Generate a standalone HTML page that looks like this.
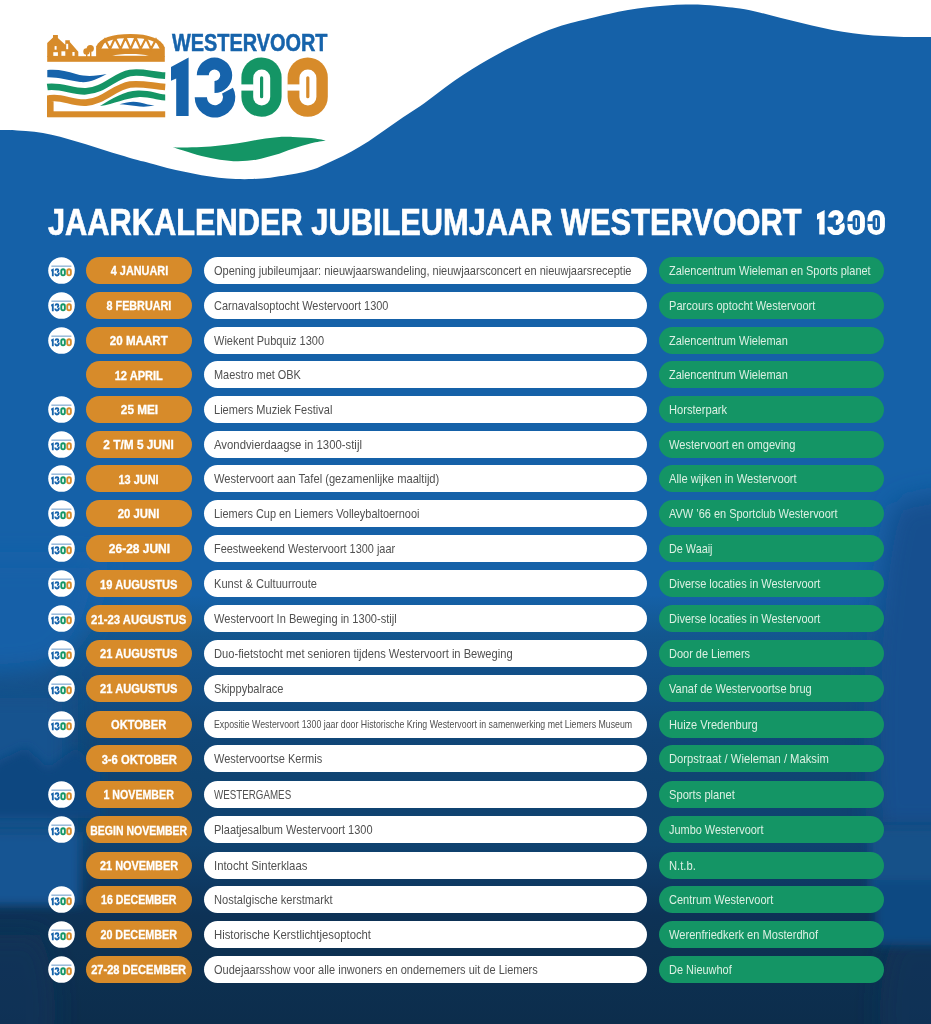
<!DOCTYPE html>
<html><head><meta charset="utf-8"><style>
*{margin:0;padding:0;box-sizing:border-box}
html,body{width:931px;height:1024px;overflow:hidden}
body{position:relative;background:#1561a8;font-family:"Liberation Sans",sans-serif}
.abs{position:absolute}
.row{position:absolute;left:0;width:931px;height:27px}
.ic{position:absolute;left:47.8px;top:0}
.dt{position:absolute;left:86px;width:106px;height:27px;border-radius:13.5px;background:#d78b2a;color:#fff;font-weight:bold;font-size:12.3px;line-height:27px;white-space:nowrap;display:flex;justify-content:center}
.ev{position:absolute;left:204px;width:443px;height:27px;border-radius:13.5px;background:#fff;color:#505050;font-size:13.1px;line-height:27px;white-space:nowrap;padding-left:10.4px}
.lo{position:absolute;left:659px;width:225px;height:27px;border-radius:13.5px;background:#149565;color:#dcf0e3;font-size:13.1px;line-height:27px;white-space:nowrap;padding-left:9.7px}
.sx{display:inline-block;transform-origin:0 50%}
.dt .sx{transform-origin:50% 50%;position:relative;top:1.3px;-webkit-text-stroke:0.3px #fff}
</style></head><body>

<svg class="abs" style="left:0;top:0" width="931" height="1024" viewBox="0 0 931 1024">
<defs>
<linearGradient id="bgg" x1="0" y1="0" x2="0" y2="1024" gradientUnits="userSpaceOnUse"><stop offset="0.0000" stop-color="#1561a8"/><stop offset="0.5811" stop-color="#1561a8"/><stop offset="0.6201" stop-color="#13568f"/><stop offset="0.6543" stop-color="#125089"/><stop offset="0.7227" stop-color="#104677"/><stop offset="0.7568" stop-color="#0f4472"/><stop offset="0.8252" stop-color="#0f426f"/><stop offset="0.8594" stop-color="#0e3a64"/><stop offset="0.8936" stop-color="#0d3256"/><stop offset="0.9277" stop-color="#0d3152"/><stop offset="1.0000" stop-color="#0c2d4c"/></linearGradient>
<filter id="bl" filterUnits="userSpaceOnUse" x="-100" y="0" width="1131" height="1150"><feGaussianBlur stdDeviation="12"/></filter>
<filter id="bl2" filterUnits="userSpaceOnUse" x="-100" y="0" width="1131" height="1150"><feGaussianBlur stdDeviation="5"/></filter>
<symbol id="idig" viewBox="0 0 157 59.5" width="157" height="59.5" overflow="visible"><path fill="#1663ab" d="M-1,9.5 L18.6,-0.5 L18.6,59 L4.5,59 L4.5,22 L-1,24 Z"/><path fill="#1663ab" d="M25.30,17.90 A18.20,18.20 0 1 1 43.50,36.10 L43.50,22.10 A4.20,4.20 0 1 0 39.30,17.90 Z"/><path fill="#1663ab" stroke="#fff" stroke-width="2.5" paint-order="stroke" d="M23.20,39.90 A20.80,20.80 0 1 0 62.37,30.13 L49.47,36.99 A6.20,6.20 0 1 1 37.80,39.90 Z"/><rect x="69.4" y="-0.5" width="42" height="60.4" rx="21" fill="#149565"/><rect x="83.9" y="14" width="13" height="32" rx="6.5" fill="#fff"/><rect x="115.6" y="-0.5" width="42" height="60.4" rx="21" fill="#d78b2a"/><rect x="130.1" y="14" width="13" height="32" rx="6.5" fill="#fff"/></symbol>
</defs>
<rect width="931" height="1024" fill="url(#bgg)"/>
<g filter="url(#bl)">
<path fill="#1561a8" d="M-60,560 L100,560 C100,610 80,650 45,668 L0,672 L-60,672 Z"/>
<path fill="#12508f" d="M895,505 C910,498 930,494 990,490 L990,830 L875,830 C868,700 875,560 895,505 Z"/>
<path fill="#13528f" d="M-60,690 L70,690 L70,835 L-60,835 Z"/>
<path fill="#0e3458" fill-opacity="0.7" d="M-60,935 L40,935 C60,980 60,1040 40,1090 L-60,1090 Z"/>
<path fill="#0e3458" fill-opacity="0.7" d="M990,935 L895,935 C875,980 875,1040 895,1090 L990,1090 Z"/>
</g>
<g filter="url(#bl2)">
<path fill="#114680" d="M-20,818 L-20,775 L0,760 L26,748 L48,768 L76,748 L100,770 L100,818 Z"/>
<path fill="#145593" d="M-60,832 L80,832 L80,905 L-60,905 Z"/>
<path fill="#135189" d="M870,828 L990,828 L990,900 L870,900 Z"/>
<path fill="#114a82" d="M875,880 L990,880 L990,945 L875,945 Z"/>
</g>
<path d="M-1,-1 L-1,130.1 L0,130.1 C2.9,130.2 11.5,130.1 17.2,130.4 C22.9,130.7 28.7,131.1 34.4,131.8 C40.1,132.5 45.8,133.5 51.5,134.7 C57.2,135.9 63.0,137.6 68.7,139.2 C74.4,140.8 80.2,142.5 85.9,144.3 C91.6,146.1 97.4,148.0 103.1,149.8 C108.8,151.6 114.6,153.3 120.3,155.0 C126.0,156.7 132.6,158.7 137.5,160.1 C142.4,161.5 145.1,161.9 150.0,163.2 C154.9,164.5 161.5,166.5 167.2,167.9 C172.9,169.3 178.7,170.6 184.4,171.8 C190.1,173.0 195.8,174.3 201.5,175.3 C207.2,176.3 213.0,177.1 218.7,177.7 C224.4,178.3 230.2,178.8 235.9,179.0 C241.6,179.2 247.4,179.2 253.1,179.0 C258.8,178.8 264.6,178.3 270.3,177.7 C276.0,177.0 282.6,175.9 287.5,175.1 C292.4,174.3 295.1,174.0 300.0,172.8 C304.9,171.6 311.5,170.0 317.2,167.9 C322.9,165.8 328.7,162.8 334.4,160.1 C340.1,157.4 345.8,154.7 351.5,151.5 C357.2,148.3 363.0,144.9 368.7,141.2 C374.4,137.5 380.2,133.2 385.9,129.2 C391.6,125.2 397.4,121.0 403.1,117.2 C408.8,113.4 414.3,110.2 420.0,106.3 C425.7,102.4 431.5,97.8 437.2,93.6 C442.9,89.3 448.7,84.8 454.4,80.8 C460.1,76.8 465.8,73.2 471.5,69.6 C477.2,66.0 483.0,62.6 488.7,59.3 C494.4,56.0 500.2,52.8 505.9,49.8 C511.6,46.8 517.4,43.9 523.1,41.2 C528.8,38.5 534.6,35.9 540.3,33.5 C546.0,31.1 551.7,28.9 557.5,27.0 C563.3,25.1 569.7,23.4 575.0,22.0 C580.3,20.6 583.7,19.9 589.3,18.5 C594.9,17.1 602.2,15.3 608.7,13.9 C615.2,12.5 621.6,11.2 628.0,10.1 C634.4,9.0 640.8,8.0 647.3,7.2 C653.8,6.4 660.2,5.8 666.7,5.4 C673.2,5.0 679.6,4.7 686.0,4.6 C692.4,4.5 698.8,4.6 705.3,5.0 C711.8,5.4 718.9,6.2 724.7,6.8 C730.5,7.4 734.0,7.6 740.0,8.6 C746.0,9.6 753.7,11.1 760.5,12.7 C767.3,14.3 774.1,16.4 781.0,18.1 C787.9,19.8 794.8,21.4 801.6,23.0 C808.5,24.6 815.3,26.2 822.1,27.7 C828.9,29.2 835.8,30.7 842.6,31.8 C849.4,32.9 856.3,33.8 863.1,34.5 C869.9,35.2 876.8,35.7 883.6,36.1 C890.4,36.5 896.2,36.8 904.1,36.9 C912.0,37.0 926.5,36.9 931.0,36.9 L932,36.9 L932,-1 Z" fill="#fff"/>
<path fill="#149565" d="M172.3,146.9 C174.1,147.0 178.4,147.6 183.3,147.6 C188.2,147.6 195.4,147.4 201.5,147.1 C207.6,146.8 213.7,146.1 219.8,145.5 C225.9,144.9 231.9,144.2 238.0,143.3 C244.1,142.4 250.2,141.0 256.3,140.0 C262.4,139.0 268.5,137.9 274.6,137.4 C280.7,136.9 286.7,136.8 292.8,136.9 C298.9,137.0 305.6,137.5 311.1,138.1 C316.6,138.7 323.3,140.1 325.7,140.5 C323.3,141.0 316.6,141.9 311.1,143.3 C305.6,144.7 298.9,146.7 292.8,148.7 C286.7,150.7 280.7,153.3 274.6,155.1 C268.5,156.9 262.4,158.7 256.3,159.7 C250.2,160.7 244.1,161.2 238.0,161.2 C231.9,161.2 225.9,160.6 219.8,159.7 C213.7,158.8 207.6,157.5 201.5,156.0 C195.4,154.5 188.2,152.1 183.3,150.6 C178.4,149.1 174.1,147.5 172.3,146.9 Z"/>
<rect x="47.2" y="56.2" width="117.6" height="5.6" fill="#d78b2a"/><path fill="#d78b2a" d="M47.2,57 L47.2,43 L53,37.5 L53,35 L57.9,35 L57.9,38 L65.3,44.8 L65.3,40.3 L69.8,40.3 L69.8,42 L78.3,51.8 L78.3,57 Z"/><rect x="53.3" y="52.2" width="4.6" height="3.7" fill="#fff"/><rect x="61.4" y="51.3" width="3.9" height="4.5" fill="#fff"/><rect x="72.4" y="52.0" width="2.2" height="3.8" fill="#fff"/><rect x="54.6" y="46.1" width="2.0" height="3.6" fill="#fff"/><rect x="66.2" y="43.8" width="2.0" height="5.4" fill="#fff"/><circle cx="86.5" cy="51.5" r="3.2" fill="#d78b2a"/><circle cx="90.3" cy="48.5" r="3.6" fill="#d78b2a"/><rect x="86" y="52" width="1.4" height="5" fill="#d78b2a"/><rect x="90" y="52" width="1.4" height="5" fill="#d78b2a"/><path fill="#d78b2a" d="M96.1,57 L96.1,46.5 C100,38 112,34 130.5,34 C149,34 161,38.5 164.8,47.5 L164.8,57 Z"/><path fill="#fff" d="M99.6,48.5 C103,41 114,38 130.5,38 C147,38 158,41 161.3,48.5 Z"/><path fill="none" stroke="#d78b2a" stroke-width="2.2" d="M100,49 L105,39.5 L110,49 L115,38 L120.5,49 L125.5,37.5 L130.5,49 L135.5,37.5 L140.5,49 L146,38 L151,49 L156,39.5 L161,49"/><path fill="#fff" d="M112,55.8 C120,53.4 141,53.4 149,55.8 Z"/><path fill="#1663ab" d="M47.3,70 C58,69 66,71 76,74 C88,77.5 97,75.5 106.6,74 C97,79 90,83 80,82 C68,80.5 58,77 47.3,77.3 Z"/><path fill="none" stroke="#149565" stroke-width="6.6" d="M47.3,87 C62,85 72,92 86,91.3 C104,90.5 114,76 130,73 C142,71 152,75 165.2,75.6"/><path fill="none" stroke="#d78b2a" stroke-width="6.6" d="M50.3,117 L50.3,98.3 C62,96 72,103.5 86,102.6 C104,101.5 114,87 130,84.5 C142,83 152,86 165.2,87"/><path fill="#149565" d="M100,106 C112,99 124,91 138,90.6 C150,90.3 158,94 165.2,94.6 L165.2,100.6 C156,100 148,96.5 138,97.2 C126,98 114,104 100,106 Z"/><path fill="#1663ab" d="M119.5,104.2 C128,101.5 134,101 140,102.5 C146,104 150,105.2 154.5,105.5 C148,106.8 142,107 136,106 C130,105 125,104.5 119.5,104.2 Z"/><rect x="47.3" y="111.3" width="117.9" height="6" fill="#d78b2a"/>
<g transform="translate(171,57.4)"><path fill="#1663ab" d="M0,9.5 L17.6,0 L17.6,58.6 L5.2,58.6 L5.2,21.1 L0,23.4 Z"/><path fill="#1663ab" d="M25.80,17.90 A17.70,17.70 0 1 1 43.50,35.60 L43.50,23.60 A5.70,5.70 0 1 0 37.80,17.90 Z"/><path fill="#1663ab" stroke="#fff" stroke-width="2.20" paint-order="stroke" d="M23.70,39.90 A20.30,20.30 0 1 0 61.92,30.37 L51.06,36.14 A8.00,8.00 0 1 1 36.00,39.90 Z"/><rect x="70.4" y="0" width="40.2" height="59.4" rx="20.1" fill="#149565"/><rect x="82.2" y="12.1" width="17" height="36.1" rx="8.5" fill="#fff"/><rect x="89.0" y="18.8" width="3.2" height="22.1" rx="1.6" fill="#149565"/><rect x="69.9" y="27.0" width="13" height="6.2" fill="#fff"/><rect x="116.6" y="0" width="40.2" height="59.4" rx="20.1" fill="#d78b2a"/><rect x="128.4" y="12.1" width="17" height="36.1" rx="8.5" fill="#fff"/><rect x="135.2" y="18.8" width="3.2" height="22.1" rx="1.6" fill="#d78b2a"/><rect x="116.1" y="27.0" width="13" height="6.2" fill="#fff"/></g>
</svg>

<div class="abs" style="left:172px;top:28.8px;font-weight:bold;font-size:24px;line-height:28px;color:#1663ab;white-space:nowrap;-webkit-text-stroke:0.5px #1663ab"><span class="sx" style="transform:scaleX(0.829)">WESTERVOORT</span></div>
<div class="abs" style="left:47.5px;top:201.2px;font-weight:bold;font-size:36.3px;line-height:44px;color:#fff;white-space:nowrap;-webkit-text-stroke:0.7px #fff"><span class="sx" style="transform:scaleX(0.848)">JAARKALENDER JUBILEUMJAAR WESTERVOORT</span></div>
<svg class="abs" style="left:817px;top:210px" width="68" height="25" viewBox="0 0 157 59.5" preserveAspectRatio="none"><path fill="#fff" d="M0,9.5 L17.6,0 L17.6,58.6 L5.2,58.6 L5.2,21.1 L0,23.4 Z"/><path fill="#fff" d="M25.80,17.90 A17.70,17.70 0 1 1 43.50,35.60 L43.50,23.60 A5.70,5.70 0 1 0 37.80,17.90 Z"/><path fill="#fff" stroke="#1561a8" stroke-width="2.20" paint-order="stroke" d="M23.70,39.90 A20.30,20.30 0 1 0 61.92,30.37 L51.06,36.14 A8.00,8.00 0 1 1 36.00,39.90 Z"/><rect x="70.4" y="0" width="40.2" height="59.4" rx="20.1" fill="#fff"/><rect x="82.2" y="12.1" width="17" height="36.1" rx="8.5" fill="#1561a8"/><rect x="89.0" y="18.8" width="3.2" height="22.1" rx="1.6" fill="#fff"/><rect x="69.9" y="27.0" width="13" height="6.2" fill="#1561a8"/><rect x="116.6" y="0" width="40.2" height="59.4" rx="20.1" fill="#fff"/><rect x="128.4" y="12.1" width="17" height="36.1" rx="8.5" fill="#1561a8"/><rect x="135.2" y="18.8" width="3.2" height="22.1" rx="1.6" fill="#fff"/><rect x="116.1" y="27.0" width="13" height="6.2" fill="#1561a8"/></svg>
<div class="row" style="top:257.0px">
<svg class="ic" width="27" height="27" viewBox="0 0 27 27"><circle cx="13.5" cy="13.5" r="13.3" fill="#fff"/><rect x="3.4" y="8.6" width="20" height="1.1" fill="#1663ab" opacity="0.6"/><g transform="translate(3.3,11.3) scale(0.13,0.133)"><use href="#idig"/></g></svg>
<div class="dt"><span class="sx" style="transform:scaleX(0.884)">4 JANUARI</span></div>
<div class="ev"><span class="sx" style="transform:scaleX(0.841)">Opening jubileumjaar: nieuwjaarswandeling, nieuwjaarsconcert en nieuwjaarsreceptie</span></div>
<div class="lo"><span class="sx" style="transform:scaleX(0.837)">Zalencentrum Wieleman en Sports planet</span></div>
</div>
<div class="row" style="top:292.0px">
<svg class="ic" width="27" height="27" viewBox="0 0 27 27"><circle cx="13.5" cy="13.5" r="13.3" fill="#fff"/><rect x="3.4" y="8.6" width="20" height="1.1" fill="#1663ab" opacity="0.6"/><g transform="translate(3.3,11.3) scale(0.13,0.133)"><use href="#idig"/></g></svg>
<div class="dt"><span class="sx" style="transform:scaleX(0.876)">8 FEBRUARI</span></div>
<div class="ev"><span class="sx" style="transform:scaleX(0.836)">Carnavalsoptocht Westervoort 1300</span></div>
<div class="lo"><span class="sx" style="transform:scaleX(0.846)">Parcours optocht Westervoort</span></div>
</div>
<div class="row" style="top:326.6px">
<svg class="ic" width="27" height="27" viewBox="0 0 27 27"><circle cx="13.5" cy="13.5" r="13.3" fill="#fff"/><rect x="3.4" y="8.6" width="20" height="1.1" fill="#1663ab" opacity="0.6"/><g transform="translate(3.3,11.3) scale(0.13,0.133)"><use href="#idig"/></g></svg>
<div class="dt"><span class="sx" style="transform:scaleX(0.942)">20 MAART</span></div>
<div class="ev"><span class="sx" style="transform:scaleX(0.840)">Wiekent Pubquiz 1300</span></div>
<div class="lo"><span class="sx" style="transform:scaleX(0.837)">Zalencentrum Wieleman</span></div>
</div>
<div class="row" style="top:361.3px">
<div class="dt"><span class="sx" style="transform:scaleX(0.899)">12 APRIL</span></div>
<div class="ev"><span class="sx" style="transform:scaleX(0.835)">Maestro met OBK</span></div>
<div class="lo"><span class="sx" style="transform:scaleX(0.837)">Zalencentrum Wieleman</span></div>
</div>
<div class="row" style="top:395.9px">
<svg class="ic" width="27" height="27" viewBox="0 0 27 27"><circle cx="13.5" cy="13.5" r="13.3" fill="#fff"/><rect x="3.4" y="8.6" width="20" height="1.1" fill="#1663ab" opacity="0.6"/><g transform="translate(3.3,11.3) scale(0.13,0.133)"><use href="#idig"/></g></svg>
<div class="dt"><span class="sx" style="transform:scaleX(0.956)">25 MEI</span></div>
<div class="ev"><span class="sx" style="transform:scaleX(0.843)">Liemers Muziek Festival</span></div>
<div class="lo"><span class="sx" style="transform:scaleX(0.849)">Horsterpark</span></div>
</div>
<div class="row" style="top:430.6px">
<svg class="ic" width="27" height="27" viewBox="0 0 27 27"><circle cx="13.5" cy="13.5" r="13.3" fill="#fff"/><rect x="3.4" y="8.6" width="20" height="1.1" fill="#1663ab" opacity="0.6"/><g transform="translate(3.3,11.3) scale(0.13,0.133)"><use href="#idig"/></g></svg>
<div class="dt"><span class="sx" style="transform:scaleX(0.963)">2 T/M 5 JUNI</span></div>
<div class="ev"><span class="sx" style="transform:scaleX(0.866)">Avondvierdaagse in 1300-stijl</span></div>
<div class="lo"><span class="sx" style="transform:scaleX(0.849)">Westervoort en omgeving</span></div>
</div>
<div class="row" style="top:465.4px">
<svg class="ic" width="27" height="27" viewBox="0 0 27 27"><circle cx="13.5" cy="13.5" r="13.3" fill="#fff"/><rect x="3.4" y="8.6" width="20" height="1.1" fill="#1663ab" opacity="0.6"/><g transform="translate(3.3,11.3) scale(0.13,0.133)"><use href="#idig"/></g></svg>
<div class="dt"><span class="sx" style="transform:scaleX(0.889)">13 JUNI</span></div>
<div class="ev"><span class="sx" style="transform:scaleX(0.852)">Westervoort aan Tafel (gezamenlijke maaltijd)</span></div>
<div class="lo"><span class="sx" style="transform:scaleX(0.853)">Alle wijken in Westervoort</span></div>
</div>
<div class="row" style="top:500.2px">
<svg class="ic" width="27" height="27" viewBox="0 0 27 27"><circle cx="13.5" cy="13.5" r="13.3" fill="#fff"/><rect x="3.4" y="8.6" width="20" height="1.1" fill="#1663ab" opacity="0.6"/><g transform="translate(3.3,11.3) scale(0.13,0.133)"><use href="#idig"/></g></svg>
<div class="dt"><span class="sx" style="transform:scaleX(0.921)">20 JUNI</span></div>
<div class="ev"><span class="sx" style="transform:scaleX(0.835)">Liemers Cup en Liemers Volleybaltoernooi</span></div>
<div class="lo"><span class="sx" style="transform:scaleX(0.838)">AVW ’66 en Sportclub Westervoort</span></div>
</div>
<div class="row" style="top:534.9px">
<svg class="ic" width="27" height="27" viewBox="0 0 27 27"><circle cx="13.5" cy="13.5" r="13.3" fill="#fff"/><rect x="3.4" y="8.6" width="20" height="1.1" fill="#1663ab" opacity="0.6"/><g transform="translate(3.3,11.3) scale(0.13,0.133)"><use href="#idig"/></g></svg>
<div class="dt"><span class="sx" style="transform:scaleX(0.973)">26-28 JUNI</span></div>
<div class="ev"><span class="sx" style="transform:scaleX(0.833)">Feestweekend Westervoort 1300 jaar</span></div>
<div class="lo"><span class="sx" style="transform:scaleX(0.826)">De Waaij</span></div>
</div>
<div class="row" style="top:570.3px">
<svg class="ic" width="27" height="27" viewBox="0 0 27 27"><circle cx="13.5" cy="13.5" r="13.3" fill="#fff"/><rect x="3.4" y="8.6" width="20" height="1.1" fill="#1663ab" opacity="0.6"/><g transform="translate(3.3,11.3) scale(0.13,0.133)"><use href="#idig"/></g></svg>
<div class="dt"><span class="sx" style="transform:scaleX(0.904)">19 AUGUSTUS</span></div>
<div class="ev"><span class="sx" style="transform:scaleX(0.847)">Kunst &amp; Cultuurroute</span></div>
<div class="lo"><span class="sx" style="transform:scaleX(0.840)">Diverse locaties in Westervoort</span></div>
</div>
<div class="row" style="top:605.4px">
<svg class="ic" width="27" height="27" viewBox="0 0 27 27"><circle cx="13.5" cy="13.5" r="13.3" fill="#fff"/><rect x="3.4" y="8.6" width="20" height="1.1" fill="#1663ab" opacity="0.6"/><g transform="translate(3.3,11.3) scale(0.13,0.133)"><use href="#idig"/></g></svg>
<div class="dt"><span class="sx" style="transform:scaleX(0.921)">21-23 AUGUSTUS</span></div>
<div class="ev"><span class="sx" style="transform:scaleX(0.846)">Westervoort In Beweging in 1300-stijl</span></div>
<div class="lo"><span class="sx" style="transform:scaleX(0.840)">Diverse locaties in Westervoort</span></div>
</div>
<div class="row" style="top:640.2px">
<svg class="ic" width="27" height="27" viewBox="0 0 27 27"><circle cx="13.5" cy="13.5" r="13.3" fill="#fff"/><rect x="3.4" y="8.6" width="20" height="1.1" fill="#1663ab" opacity="0.6"/><g transform="translate(3.3,11.3) scale(0.13,0.133)"><use href="#idig"/></g></svg>
<div class="dt"><span class="sx" style="transform:scaleX(0.904)">21 AUGUSTUS</span></div>
<div class="ev"><span class="sx" style="transform:scaleX(0.852)">Duo-fietstocht met senioren tijdens Westervoort in Beweging</span></div>
<div class="lo"><span class="sx" style="transform:scaleX(0.838)">Door de Liemers</span></div>
</div>
<div class="row" style="top:675.2px">
<svg class="ic" width="27" height="27" viewBox="0 0 27 27"><circle cx="13.5" cy="13.5" r="13.3" fill="#fff"/><rect x="3.4" y="8.6" width="20" height="1.1" fill="#1663ab" opacity="0.6"/><g transform="translate(3.3,11.3) scale(0.13,0.133)"><use href="#idig"/></g></svg>
<div class="dt"><span class="sx" style="transform:scaleX(0.904)">21 AUGUSTUS</span></div>
<div class="ev"><span class="sx" style="transform:scaleX(0.845)">Skippybalrace</span></div>
<div class="lo"><span class="sx" style="transform:scaleX(0.844)">Vanaf de Westervoortse brug</span></div>
</div>
<div class="row" style="top:710.7px">
<svg class="ic" width="27" height="27" viewBox="0 0 27 27"><circle cx="13.5" cy="13.5" r="13.3" fill="#fff"/><rect x="3.4" y="8.6" width="20" height="1.1" fill="#1663ab" opacity="0.6"/><g transform="translate(3.3,11.3) scale(0.13,0.133)"><use href="#idig"/></g></svg>
<div class="dt"><span class="sx" style="transform:scaleX(0.902)">OKTOBER</span></div>
<div class="ev" style="font-size:11.5px"><span class="sx" style="transform:scaleX(0.764)">Expositie Westervoort 1300 jaar door Historische Kring Westervoort in samenwerking met Liemers Museum</span></div>
<div class="lo"><span class="sx" style="transform:scaleX(0.844)">Huize Vredenburg</span></div>
</div>
<div class="row" style="top:745.4px">
<div class="dt"><span class="sx" style="transform:scaleX(0.912)">3-6 OKTOBER</span></div>
<div class="ev"><span class="sx" style="transform:scaleX(0.842)">Westervoortse Kermis</span></div>
<div class="lo"><span class="sx" style="transform:scaleX(0.858)">Dorpstraat / Wieleman / Maksim</span></div>
</div>
<div class="row" style="top:780.9px">
<svg class="ic" width="27" height="27" viewBox="0 0 27 27"><circle cx="13.5" cy="13.5" r="13.3" fill="#fff"/><rect x="3.4" y="8.6" width="20" height="1.1" fill="#1663ab" opacity="0.6"/><g transform="translate(3.3,11.3) scale(0.13,0.133)"><use href="#idig"/></g></svg>
<div class="dt"><span class="sx" style="transform:scaleX(0.865)">1 NOVEMBER</span></div>
<div class="ev"><span class="sx" style="transform:scaleX(0.747)">WESTERGAMES</span></div>
<div class="lo"><span class="sx" style="transform:scaleX(0.853)">Sports planet</span></div>
</div>
<div class="row" style="top:816.3px">
<svg class="ic" width="27" height="27" viewBox="0 0 27 27"><circle cx="13.5" cy="13.5" r="13.3" fill="#fff"/><rect x="3.4" y="8.6" width="20" height="1.1" fill="#1663ab" opacity="0.6"/><g transform="translate(3.3,11.3) scale(0.13,0.133)"><use href="#idig"/></g></svg>
<div class="dt"><span class="sx" style="transform:scaleX(0.854)">BEGIN NOVEMBER</span></div>
<div class="ev"><span class="sx" style="transform:scaleX(0.839)">Plaatjesalbum Westervoort 1300</span></div>
<div class="lo"><span class="sx" style="transform:scaleX(0.834)">Jumbo Westervoort</span></div>
</div>
<div class="row" style="top:851.5px">
<div class="dt"><span class="sx" style="transform:scaleX(0.886)">21 NOVEMBER</span></div>
<div class="ev"><span class="sx" style="transform:scaleX(0.867)">Intocht Sinterklaas</span></div>
<div class="lo"><span class="sx" style="transform:scaleX(0.856)">N.t.b.</span></div>
</div>
<div class="row" style="top:885.9px">
<svg class="ic" width="27" height="27" viewBox="0 0 27 27"><circle cx="13.5" cy="13.5" r="13.3" fill="#fff"/><rect x="3.4" y="8.6" width="20" height="1.1" fill="#1663ab" opacity="0.6"/><g transform="translate(3.3,11.3) scale(0.13,0.133)"><use href="#idig"/></g></svg>
<div class="dt"><span class="sx" style="transform:scaleX(0.861)">16 DECEMBER</span></div>
<div class="ev"><span class="sx" style="transform:scaleX(0.849)">Nostalgische kerstmarkt</span></div>
<div class="lo"><span class="sx" style="transform:scaleX(0.840)">Centrum Westervoort</span></div>
</div>
<div class="row" style="top:920.9px">
<svg class="ic" width="27" height="27" viewBox="0 0 27 27"><circle cx="13.5" cy="13.5" r="13.3" fill="#fff"/><rect x="3.4" y="8.6" width="20" height="1.1" fill="#1663ab" opacity="0.6"/><g transform="translate(3.3,11.3) scale(0.13,0.133)"><use href="#idig"/></g></svg>
<div class="dt"><span class="sx" style="transform:scaleX(0.877)">20 DECEMBER</span></div>
<div class="ev"><span class="sx" style="transform:scaleX(0.863)">Historische Kerstlichtjesoptocht</span></div>
<div class="lo"><span class="sx" style="transform:scaleX(0.847)">Werenfriedkerk en Mosterdhof</span></div>
</div>
<div class="row" style="top:956.0px">
<svg class="ic" width="27" height="27" viewBox="0 0 27 27"><circle cx="13.5" cy="13.5" r="13.3" fill="#fff"/><rect x="3.4" y="8.6" width="20" height="1.1" fill="#1663ab" opacity="0.6"/><g transform="translate(3.3,11.3) scale(0.13,0.133)"><use href="#idig"/></g></svg>
<div class="dt"><span class="sx" style="transform:scaleX(0.902)">27-28 DECEMBER</span></div>
<div class="ev"><span class="sx" style="transform:scaleX(0.841)">Oudejaarsshow voor alle inwoners en ondernemers uit de Liemers</span></div>
<div class="lo"><span class="sx" style="transform:scaleX(0.837)">De Nieuwhof</span></div>
</div>
</body></html>
